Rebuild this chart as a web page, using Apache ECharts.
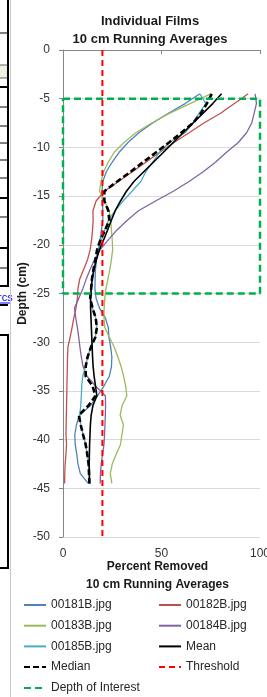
<!DOCTYPE html>
<html>
<head>
<meta charset="utf-8">
<title>Individual Films</title>
<script src="https://cdn.jsdelivr.net/npm/echarts@6/dist/echarts.min.js"></script>
<style>
  html, body { margin: 0; padding: 0; background: #fff; }
  #chart { width: 267px; height: 697px; }
</style>
</head>
<body>
<div id="chart"></div>
<script>
// depth of each running-average point (cm)
const depths = [-4.5, -5.5, -6.5, -7.5, -8.5, -9.5, -10.5, -11.5, -12.5, -13.5,
  -14.5, -15.5, -16.5, -17.5, -18.5, -19.5, -20.5, -21.5, -22.5, -23.5,
  -24.5, -25.5, -26.5, -27.5, -28.5, -29.5, -30.5, -31.5, -32.5, -33.5,
  -34.5, -35.5, -36.5, -37.5, -38.5, -39.5, -40.5, -41.5, -42.5, -43.5, -44.5]

// percent removed, one value per depth
const film181 = [69.5, 62, 53.5, 45.5, 38.5, 33, 28.5, 25, 22, 20.2,
  19.8, 20, 20.2, 20.2, 19.5, 18.8, 18, 17, 16.5, 16.3,
  16.2, 16.8, 18.5, 21.5, 23, 23.3, 24.2, 24.8, 24.6, 23.5,
  20.8, 17.5, 14, 8.3, 6.8, 6, 6.2, 7, 7.6, 8.8, 12.8]
const film182 = [94, 87, 80, 71.5, 64, 56.3, 49.2, 42.2, 35.2, 28.2,
  21, 16.8, 15.2, 15.3, 15, 14.5, 13.8, 12.5, 10.5, 8.5,
  7.6, 7.3, 6.6, 5.5, 4.6, 3.6, 2.5, 2.3, 2.2, 2.1,
  2, 1.9, 1.8, 1.7, 1.6, 1.5, 1.8, 1.5, 1.1, 0.9, 0.8]
const film183 = [75, 64.5, 54, 45, 37, 31, 26, 23, 20.6, 19.3,
  18.5, 21, 23.5, 24.2, 24.6, 25, 25.2, 24.6, 23.8, 22.8,
  21.8, 21.2, 20.9, 20.8, 21.2, 23.5, 26, 27.8, 29.5, 30.8,
  31.8, 32.4, 30, 29, 30.7, 29.9, 29.2, 27, 25, 24, 24.8]
const film184 = [97.5, 98.2, 97, 95.8, 93.2, 89, 83, 77.5, 71.2, 64,
  56, 47, 38.3, 32.5, 27.3, 23, 18.9, 16, 13.8, 11.8,
  10.1, 8, 5.8, 6.5, 7.3, 8, 8.6, 9.3, 10.2, 12.2,
  16.5, 21.5, 21.6, 21.5, 21.3, 21.1, 20.8, 20.1, 19.4, 19, 18.9]
const film185 = [69.5, 72.5, 69, 66, 62, 54, 49, 45.5, 42, 39.5,
  35, 30.5, 26.5, 23, 21.2, 19.5, 18, 16.7, 15.6, 14.7,
  14.3, 13.8, 15, 16.6, 17.2, 16.4, 14.2, 12.5, 11.5, 10,
  9.5, 9.3, 9, 8.5, 9, 10.2, 11.5, 12.3, 13, 13.2, 13.4]
const meanValues = [80.5, 76, 71, 66, 61, 56, 51, 46, 41, 36,
  32.2, 29.2, 26.5, 24.5, 22.6, 20.6, 18.5, 17, 15.8, 14.8,
  14.3, 14, 14, 14.2, 14.4, 14.6, 14.8, 15, 15.3, 15.8,
  16.5, 17.2, 15.2, 14.3, 13.9, 13.7, 13.5, 13.4, 13.3, 13.4, 13.5]
const medianValues = [75.5, 73, 70, 66, 60, 53.8, 47.3, 40.8, 34.3, 27.5,
  21, 21, 23, 23.5, 21.3, 19, 17.3, 16.5, 15.5, 14.7,
  14.3, 13.8, 15, 16.6, 17.2, 16.4, 14.2, 12.5, 11.5, 11.5,
  15, 16.5, 13, 8, 9, 10.2, 11.5, 12.3, 13, 13.2, 13.4]

const thresholdX = [20, 20]
const thresholdY = [0, -50]
const interestX = [0, 100, 100, 0, 0]
const interestY = [-5, -5, -25, -25, -5]

const font = 'Liberation Sans, Arial, sans-serif'

function pairs(xs, ys) {
  return xs.map((x, i) => [x, ys[i]])
}

function filmLine(name, values, color, width, extra) {
  return Object.assign({
    name,
    type: 'line',
    data: pairs(values, depths),
    symbol: 'none',
    lineStyle: { color, width },
    itemStyle: { color },
  }, extra || {})
}

// spreadsheet cells peeking in on the left
function sheetLine(y, w) {
  return { type: 'line', shape: { x1: 0, y1: y, x2: 8, y2: y }, style: { stroke: '#000', lineWidth: w }, silent: true }
}
const sheetDecor = [
  { type: 'rect', shape: { x: 0, y: 65, width: 8, height: 13 }, style: { fill: '#eef0e2' }, silent: true },
  sheetLine(33, 1), sheetLine(65, 0.6), sheetLine(78, 0.6), sheetLine(87, 2),
  sheetLine(107, 1), sheetLine(126, 1), sheetLine(143, 1), sheetLine(160, 1),
  sheetLine(178, 1), sheetLine(198, 2), sheetLine(217, 1), sheetLine(248, 2),
  sheetLine(268, 1), sheetLine(286, 2), sheetLine(305, 2),
  { type: 'line', shape: { x1: 8, y1: 0, x2: 8, y2: 287 }, style: { stroke: '#000', lineWidth: 2 }, silent: true },
  { type: 'rect', shape: { x: -5, y: 335, width: 13, height: 233 }, style: { fill: 'none', stroke: '#000', lineWidth: 2 }, silent: true },
  { type: 'text', x: -2, y: 292, style: { text: 'rcs', fill: '#0000ff', font: '11px ' + font }, silent: true },
  { type: 'line', shape: { x1: 0, y1: 303, x2: 10, y2: 303 }, style: { stroke: '#0000ff', lineWidth: 1 }, silent: true },
  { type: 'rect', shape: { x: 10.5, y: -1, width: 300, height: 700 }, style: { fill: 'none', stroke: '#c8c8c8', lineWidth: 1 }, silent: true },
]

const legendBase = {
  orient: 'vertical',
  top: 594,
  itemWidth: 22,
  itemHeight: 12,
  itemGap: 8.7,
  itemStyle: { opacity: 0 },
  textStyle: { fontFamily: font, fontSize: 12, color: '#262626' },
}

const chart = echarts.init(document.getElementById('chart'))

chart.setOption({
  animation: false,
  backgroundColor: '#fff',
  title: {
    text: 'Individual Films\n10 cm Running Averages',
    left: 145,
    top: 7,
    textAlign: 'center',
    textStyle: { fontFamily: font, fontSize: 13, fontWeight: 'bold', color: '#1a1a1a', lineHeight: 18 },
  },
  grid: { left: 63, right: 7, top: 50, bottom: 160, outerBoundsMode: 'none' },
  xAxis: {
    type: 'value',
    min: 0,
    max: 100,
    interval: 50,
    name: 'Percent Removed\n10 cm Running Averages',
    nameLocation: 'middle',
    nameGap: 21,
    nameMoveOverlap: false,
    nameTextStyle: { fontFamily: font, fontSize: 12, fontWeight: 'bold', color: '#1a1a1a', lineHeight: 18, padding: [0, 8, 0, 0] },
    axisLine: { lineStyle: { color: '#868686' } },
    axisTick: { show: true, length: 4, lineStyle: { color: '#868686' } },
    axisLabel: { fontFamily: font, fontSize: 12, color: '#333', margin: 11 },
    splitLine: { show: false },
  },
  yAxis: {
    type: 'value',
    min: -50,
    max: 0,
    interval: 5,
    name: 'Depth (cm)',
    nameLocation: 'middle',
    nameGap: 34,
    nameMoveOverlap: false,
    nameTextStyle: { fontFamily: font, fontSize: 12, fontWeight: 'bold', color: '#1a1a1a' },
    axisLine: { show: true, lineStyle: { color: '#868686' } },
    axisTick: { show: true, length: 4, lineStyle: { color: '#868686' } },
    axisLabel: { fontFamily: font, fontSize: 12, color: '#333', margin: 13 },
    splitLine: { lineStyle: { color: '#d9d9d9' } },
  },
  legend: [
    Object.assign({}, legendBase, {
      data: ['00181B.jpg', '00183B.jpg', '00185B.jpg', 'Median'],
      left: 18,
    }),
    Object.assign({}, legendBase, {
      data: ['00182B.jpg', '00184B.jpg', 'Mean', 'Threshold'],
      left: 153,
    }),
    Object.assign({}, legendBase, {
      data: ['Depth of Interest'],
      left: 18,
      top: 677,
    }),
  ],
  graphic: sheetDecor,
  series: [
    filmLine('00181B.jpg', film181, '#4f81bd', 1.3),
    filmLine('00182B.jpg', film182, '#c0504d', 1.3),
    filmLine('00183B.jpg', film183, '#9bbb59', 1.3),
    filmLine('00184B.jpg', film184, '#8064a2', 1.3),
    filmLine('00185B.jpg', film185, '#4bacc6', 1.3),
    filmLine('Mean', meanValues, '#000000', 1.6),
    filmLine('Median', medianValues, '#000000', 2.6, {
      lineStyle: { color: '#000000', width: 2.6, type: [6, 3] },
    }),
    {
      name: 'Threshold',
      type: 'line',
      data: pairs(thresholdX, thresholdY),
      symbol: 'none',
      lineStyle: { color: '#ff0000', width: 2, type: [6, 4] },
      itemStyle: { color: '#ff0000' },
    },
    {
      name: 'Depth of Interest',
      type: 'line',
      data: pairs(interestX, interestY),
      symbol: 'none',
      lineStyle: { color: '#00b050', width: 2.5, type: [7, 4] },
      itemStyle: { color: '#00b050' },
    },
  ],
})
</script>
</body>
</html>
